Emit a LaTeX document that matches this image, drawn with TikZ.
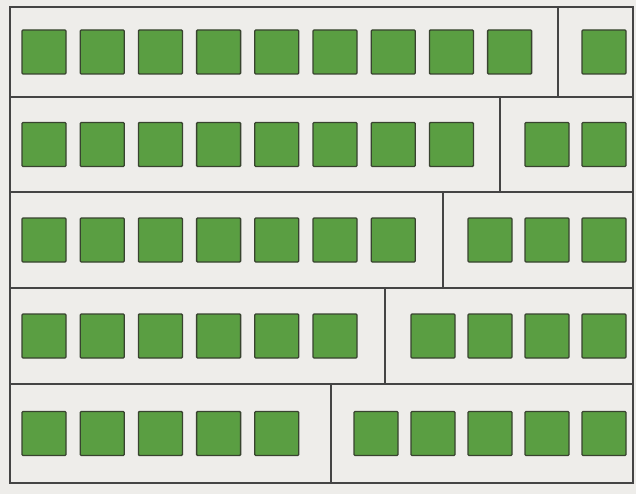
\documentclass[tikz,border=0pt]{standalone}
\usepackage{xcolor}
\usepackage{tikz}
\definecolor{paperGrey}{HTML}{EEEDEA}
\definecolor{tileGreen}{HTML}{5A9E42}
\definecolor{tileEdge}{HTML}{38432F}
\definecolor{frameInk}{HTML}{444444}
\tikzset{
  tile/.style={
    rectangle,
    rounded corners=1pt,
    draw=tileEdge,
    fill=tileGreen,
    line width=1.3pt,
    minimum width=44pt,
    minimum height=44pt,
    inner sep=0pt
  },
  rowbox/.style={
    draw=frameInk,
    line width=1.2pt
  }
}
\begin{document}
\begin{tikzpicture}[x=1pt,y=-1pt]
  \fill[paperGrey] (0,0) rectangle (636,494);
  \useasboundingbox (0,0) rectangle (636,494);
  % one row per split of ten: top, bottom, divider
  \foreach \r/\ytop/\ybot/\xcut in {1/7/97/558, 2/97/192/500, 3/192/288/443, 4/288/384/385, 5/384/483/331} {
    \pgfmathsetmacro{\rowmid}{(\ytop+\ybot)/2}
    \pgfmathtruncatemacro{\nleft}{10-\r}
    \draw[rowbox] (10,\ytop) rectangle (\xcut,\ybot);
    \draw[rowbox] (\xcut,\ytop) rectangle (633,\ybot);
    \foreach \i in {1,...,\nleft}
      \node[tile] (L\r-\i) at ({44+(\i-1)*58.2},\rowmid) {};
    \foreach \j in {1,...,\r}
      \node[tile] (R\r-\j) at ({604-(\r-\j)*57},\rowmid) {};
  }
\end{tikzpicture}
\end{document}
